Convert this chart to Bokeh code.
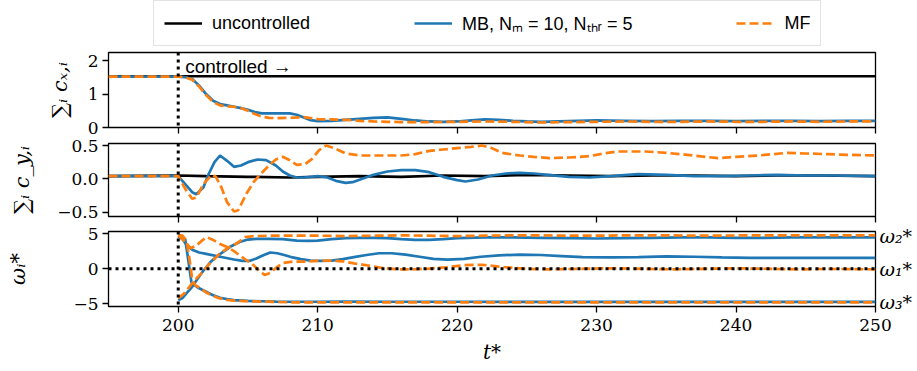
from bokeh.plotting import figure
from bokeh.models import (Range1d, FixedTicker, LinearAxis, Legend, LegendItem, Span)
from bokeh.layouts import column
from bokeh.core.properties import value
from bokeh.embed import file_html
from bokeh.resources import INLINE

# ---------------- data ----------------
t_start, t_end = 195, 250
t_control = 200
x_ticks = [200, 210, 220, 230, 240, 250]

# panel 1: sum_i c_x,i
cx_unc_t = [195, 200, 210, 220, 230, 240, 250]
cx_unc = [1.53, 1.53, 1.53, 1.53, 1.53, 1.53, 1.53]

cx_mb_t = [195, 200, 200.5, 201, 201.5, 202, 202.5, 203, 203.5, 204, 204.5, 205, 205.5, 206, 207, 208,
           208.5, 209, 209.5, 210, 211, 212, 213, 214, 215, 216, 217, 218, 219, 220, 221, 222, 223, 224,
           225, 226, 228, 230, 232, 234, 236, 238, 240, 242, 244, 246, 248, 250]
cx_mb = [1.52, 1.52, 1.50, 1.45, 1.25, 1.00, 0.80, 0.70, 0.66, 0.62, 0.58, 0.53, 0.46, 0.42, 0.42, 0.42,
         0.38, 0.30, 0.22, 0.19, 0.20, 0.23, 0.26, 0.29, 0.30, 0.26, 0.21, 0.18, 0.17, 0.18, 0.21, 0.24, 0.23, 0.20,
         0.18, 0.17, 0.19, 0.21, 0.20, 0.19, 0.20, 0.20, 0.19, 0.20, 0.20, 0.19, 0.20, 0.20]

cx_mf_t = [195, 200, 200.5, 201, 201.5, 202, 202.5, 203, 203.5, 204, 204.5, 205, 205.5, 206, 206.5, 207,
           208, 209, 209.5, 210, 211, 212, 213, 214, 215, 216, 218, 220, 222, 224, 226, 228, 230, 232,
           234, 236, 238, 240, 242, 244, 246, 248, 250]
cx_mf = [1.52, 1.52, 1.50, 1.43, 1.22, 0.97, 0.76, 0.66, 0.63, 0.62, 0.58, 0.50, 0.40, 0.32, 0.29, 0.28,
         0.29, 0.31, 0.28, 0.25, 0.24, 0.23, 0.20, 0.18, 0.17, 0.16, 0.16, 0.17, 0.18, 0.17, 0.15, 0.16, 0.17, 0.18,
         0.17, 0.17, 0.18, 0.17, 0.17, 0.18, 0.17, 0.18, 0.18]

# panel 2: sum_i c_y,i
cy_unc_t = [195, 200, 202, 205, 208, 210, 213, 216, 219, 222, 225, 228, 231, 234, 237, 240, 243, 246, 250]
cy_unc = [0.04, 0.05, 0.04, 0.03, 0.02, 0.03, 0.04, 0.03, 0.05, 0.04, 0.06, 0.05, 0.04, 0.05, 0.05, 0.04,
          0.05, 0.05, 0.04]

cy_mb_t = [195, 200, 200.5, 201, 201.3, 201.8, 202.2, 202.6, 203, 203.5, 204, 204.5, 205, 205.7, 206.3, 207,
           207.5, 208, 208.5, 209, 210, 210.7, 211.3, 212, 212.5, 213.2, 214, 215, 216, 217, 218, 219, 220,
           220.6, 221.5, 222.5, 223.5, 224.5, 225.5, 226.5, 228, 229.5, 231, 233, 235, 237, 239, 241, 243,
           245, 247, 250]
cy_mb = [0.04, 0.04, -0.08, -0.20, -0.23, -0.13, 0.08, 0.25, 0.35, 0.27, 0.18, 0.20, 0.25, 0.29, 0.28, 0.20,
         0.11, 0.05, 0.02, 0.02, 0.04, 0.02, -0.03, -0.06, -0.05, 0.00, 0.06, 0.11, 0.13, 0.13, 0.10, 0.03, -0.02,
         -0.04, -0.01, 0.05, 0.08, 0.09, 0.08, 0.06, 0.03, 0.02, 0.04, 0.07, 0.06, 0.04, 0.04, 0.05, 0.06,
         0.05, 0.05, 0.04]

cy_mf_t = [195, 200, 200.5, 201, 201.3, 201.8, 202.4, 202.7, 203.1, 203.5, 204, 204.3, 204.9, 205.4, 205.9,
           206.5, 207, 207.5, 208, 208.5, 209.1, 209.6, 210.1, 210.6, 211.2, 212, 213, 214, 215, 216, 217, 218,
           219, 220, 221, 221.8, 222.5, 223.2, 224.5, 225.5, 226.6, 228, 229.5, 230.5, 231.5, 233.5, 235, 236.5,
           238.7, 240, 241.6, 243.7, 245, 246.6, 248, 250]
cy_mf = [0.04, 0.04, -0.15, -0.30, -0.28, -0.08, 0.06, 0.03, -0.13, -0.35, -0.49, -0.47, -0.22, -0.05, 0.07,
         0.20, 0.29, 0.33, 0.28, 0.21, 0.22, 0.30, 0.43, 0.50, 0.46, 0.38, 0.35, 0.35, 0.35, 0.35, 0.37, 0.42,
         0.44, 0.46, 0.48, 0.50, 0.46, 0.39, 0.35, 0.33, 0.31, 0.32, 0.34, 0.38, 0.41, 0.41, 0.39, 0.36,
         0.31, 0.33, 0.35, 0.39, 0.38, 0.37, 0.36, 0.35]

# panel 3: omega_i^*
w1_mb_t = [200, 200.3, 200.6, 201, 201.5, 202, 203, 204, 204.6, 205.1, 205.6, 206.1, 206.6, 207.1, 207.6, 208.2,
           208.8, 209.5, 210.2, 211, 211.8, 212.6, 213.5, 214.4, 215.3, 216.3, 217.3, 218.3, 219.3, 220.5, 221.7,
           223, 224.5, 226, 227.5, 229, 231, 233, 235, 237, 239, 241, 243, 245, 247, 250]
w1_mb = [4.6, 4.2, 3.4, 2.7, 2.3, 2.1, 1.7, 1.3, 1.1, 1.1, 1.45, 1.9, 2.3, 2.2, 1.95, 1.6,
         1.35, 1.15, 1.1, 1.15, 1.35, 1.65, 1.95, 2.2, 2.2, 2.0, 1.7, 1.4, 1.3, 1.4, 1.7,
         1.9, 2.0, 1.95, 1.8, 1.65, 1.6, 1.65, 1.75, 1.7, 1.6, 1.55, 1.55, 1.55, 1.55, 1.55]

w2_mb_t = [200, 200.3, 200.6, 201, 201.4, 201.8, 202.3, 202.8, 203.3, 203.8, 204.4, 205, 205.6, 206.5, 207.5,
           208.5, 209.3, 210, 211, 212, 213, 214, 215, 216, 217, 218, 219, 220, 222, 224, 226, 228, 230, 232,
           234, 236, 238, 240, 242, 244, 246, 248, 250]
w2_mb = [-4.5, -4.2, -3.5, -2.6, -1.4, -0.3, 0.9, 1.8, 2.5, 3.2, 3.8, 4.15, 4.25, 4.25, 4.2,
         4.0, 3.95, 4.0, 4.2, 4.35, 4.4, 4.4, 4.35, 4.2, 4.1, 4.1, 4.2, 4.35, 4.45, 4.45, 4.4, 4.35, 4.3, 4.35,
         4.4, 4.45, 4.45, 4.4, 4.4, 4.45, 4.45, 4.45, 4.45]

w3_mb_t = [200, 200.3, 200.5, 200.7, 200.95, 201.2, 201.5, 202, 202.5, 203, 203.5, 204, 205, 206, 207, 208,
           210, 212, 215, 220, 225, 230, 235, 240, 245, 250]
w3_mb = [4.6, 4.4, 4.2, 1.5, -2.0, -2.4, -2.8, -3.3, -3.8, -4.15, -4.35, -4.5, -4.6, -4.65, -4.7, -4.72,
         -4.72, -4.7, -4.72, -4.72, -4.75, -4.75, -4.75, -4.75, -4.75, -4.75]

w1_mf_t = [200, 200.4, 200.9, 201.3, 201.7, 202.05, 202.5, 203, 203.5, 204, 204.4, 204.9, 205.4, 205.8, 206.2,
           206.6, 207, 207.5, 208.2, 209, 209.9, 210.8, 211.8, 212.6, 213.3, 214, 214.8, 215.8, 216.8, 218,
           219.2, 220.5, 221.8, 223, 224, 225.2, 226.5, 228, 229.5, 231, 232.5, 234, 235.5, 237, 238.5, 240,
           241.5, 243, 244.5, 246, 247.5, 250]
w1_mf = [4.75, 4.0, 2.9, 3.3, 4.0, 4.5, 4.1, 3.5, 3.1, 2.5, 1.9, 1.2, 0.5, -0.3, -0.9,
         -0.6, 0.1, 0.8, 1.0, 1.0, 1.1, 1.15, 1.05, 0.75, 0.55, 0.3, 0.05, -0.1, -0.1, 0.0,
         0.2, 0.5, 0.55, 0.3, 0.1, -0.05, -0.1, -0.05, 0.0, 0.05, 0.0, -0.05, -0.1, -0.05, 0.0, 0.05,
         0.0, -0.05, -0.1, -0.05, -0.05, -0.1]

w2_mf_t = [200, 200.4, 200.8, 201.2, 201.5, 201.8, 202.2, 202.6, 203, 203.6, 204.2, 204.8, 205.5, 206.5, 208,
           210, 212, 214, 216, 218, 220, 222, 224, 226, 228, 230, 232, 235, 238, 241, 244, 247, 250]
w2_mf = [-4.2, -3.6, -2.6, -1.6, -1.0, -0.4, 0.6, 1.4, 2.2, 3.0, 3.6, 4.5, 4.65, 4.7, 4.7,
         4.7, 4.65, 4.7, 4.75, 4.7, 4.65, 4.7, 4.75, 4.75, 4.7, 4.7, 4.75, 4.75, 4.7, 4.75, 4.75, 4.75, 4.75]

w3_mf_t = [200, 200.3, 200.6, 200.8, 201, 201.2, 201.5, 202, 202.5, 203, 203.5, 204, 205, 206, 207, 208,
           210, 212, 215, 220, 225, 230, 235, 240, 245, 250]
w3_mf = [4.8, 4.7, 4.0, 1.5, -1.5, -2.3, -2.7, -3.4, -3.9, -4.25, -4.45, -4.55, -4.65, -4.7, -4.75, -4.8,
         -4.8, -4.8, -4.8, -4.8, -4.8, -4.8, -4.8, -4.8, -4.8, -4.8]

omega_label_pos = [4.7, 0.0, -4.7]
omega_label_text = ["ω₂*", "ω₁*", "ω₃*"]

legend_labels = ["uncontrolled", "MB, Nₘ = 10, Nₜₕᵣ = 5", "MF"]

# ---------------- style ----------------
C_UNC, C_MB, C_MF = "black", "#1f77b4", "#ff7f0e"
LW = 2.7
DASH = "9 4"
TICK_FONT = "DejaVu Serif"
SANS = "Liberation Sans"
FW = 767
MB_LEFT, MB_RIGHT = 108, 40
TOTAL_W = MB_LEFT + FW + MB_RIGHT

x_range = Range1d(t_start, t_end)


def make_fig(y0, y1, yticks, ylabels, ylabel, top, fh, bottom, label_standoff, show_x=False):
    p = figure(width=TOTAL_W, height=top + fh + bottom, title=None,
               x_range=x_range, y_range=Range1d(y0, y1),
               output_backend="svg", toolbar_location=None,
               min_border_left=MB_LEFT, min_border_right=MB_RIGHT,
               min_border_top=top, min_border_bottom=bottom)
    p.grid.visible = False
    p.outline_line_color = "black"
    p.outline_line_width = 1.3
    p.background_fill_color = "white"
    p.border_fill_color = "white"
    for ax in (p.xaxis[0], p.yaxis[0]):
        ax.axis_line_color = None
        ax.minor_tick_line_color = None
        ax.minor_tick_out = 0
        ax.major_tick_in = 0
        ax.major_tick_out = 6
        ax.major_tick_line_width = 1.3
        ax.major_tick_line_color = "black"
        ax.major_label_text_font = TICK_FONT
        ax.major_label_text_font_size = "17px"
        ax.major_label_text_color = "black"
        ax.axis_label_text_color = "black"
    p.xaxis.ticker = FixedTicker(ticks=x_ticks)
    if not show_x:
        p.xaxis.major_label_text_font_size = "0px"
        p.xaxis.major_label_standoff = 0
    yax = p.yaxis[0]
    yax.ticker = FixedTicker(ticks=yticks)
    yax.major_label_overrides = {t: l for t, l in zip(yticks, ylabels)}
    yax.major_label_standoff = 4
    yax.axis_label = ylabel
    yax.axis_label_text_font = TICK_FONT
    yax.axis_label_text_font_style = "italic"
    yax.axis_label_text_font_size = "21px"
    yax.axis_label_standoff = label_standoff
    return p


# legend strip: the series are drawn here outside the visible range, only the legend shows
leg_fig = figure(width=TOTAL_W, height=48, title=None, x_range=x_range, y_range=Range1d(10, 11),
                 x_axis_type=None, y_axis_type=None, output_backend="svg", toolbar_location=None,
                 min_border_left=MB_LEFT, min_border_right=MB_RIGHT, min_border_top=0, min_border_bottom=0)
leg_fig.grid.visible = False
leg_fig.outline_line_color = None
leg_fig.background_fill_color = "white"
leg_fig.border_fill_color = "white"
lr_unc = leg_fig.line(cx_unc_t, cx_unc, line_color=C_UNC, line_width=LW)
lr_mb = leg_fig.line(cx_mb_t, cx_mb, line_color=C_MB, line_width=LW)
lr_mf = leg_fig.line(cx_mf_t, cx_mf, line_color=C_MF, line_width=LW, line_dash=DASH)
legend = Legend(items=[LegendItem(label=legend_labels[0], renderers=[lr_unc]),
                       LegendItem(label=legend_labels[1], renderers=[lr_mb]),
                       LegendItem(label=legend_labels[2], renderers=[lr_mf])],
                orientation="horizontal", location=(45, 2))
legend.label_text_font = SANS
legend.label_text_font_size = "18px"
legend.label_text_color = "black"
legend.border_line_color = "#c8c8c8"
legend.border_line_width = 1.5
legend.glyph_width = 38
legend.glyph_height = 20
legend.label_standoff = 10
legend.spacing = 104
legend.padding = 10
legend.margin = 0
legend.background_fill_color = "white"
leg_fig.add_layout(legend, "center")

# panel 1
p1 = make_fig(0, 2.24, [0, 1, 2], ["0", "1", "2"], "∑ᵢ cₓ,ᵢ", 4, 75, 10, 13)
p1.add_layout(Span(location=t_control, dimension="height", line_color="black",
                   line_width=3, line_dash="3 4"))
p1.line(cx_unc_t, cx_unc, line_color=C_UNC, line_width=LW)
p1.line(cx_mb_t, cx_mb, line_color=C_MB, line_width=LW)
p1.line(cx_mf_t, cx_mf, line_color=C_MF, line_width=LW, line_dash=DASH)
p1.text(x=[t_control + 0.5], y=[1.82], text=["controlled →"], text_font=value(SANS),
        text_font_size="19px", text_baseline="middle", text_color="black")

# panel 2
p2 = make_fig(-0.565, 0.53, [-0.5, 0.0, 0.5], ["−0.5", "0.0", "0.5"], "∑ᵢ c_y,ᵢ", 6, 73, 7, 20)
p2.add_layout(Span(location=t_control, dimension="height", line_color="black",
                   line_width=3, line_dash="3 4"))
p2.line(cy_unc_t, cy_unc, line_color=C_UNC, line_width=LW)
p2.line(cy_mb_t, cy_mb, line_color=C_MB, line_width=LW)
p2.line(cy_mf_t, cy_mf, line_color=C_MF, line_width=LW, line_dash=DASH)

# panel 3
p3 = make_fig(-5.4, 5.3, [-5, 0, 5], ["−5", "0", "5"], "ωᵢ*", 8, 75, 62, 40, show_x=True)
p3.add_layout(Span(location=0, dimension="width", line_color="black",
                   line_width=3, line_dash="3 4"))
p3.add_layout(Span(location=t_control, dimension="height", line_color="black",
                   line_width=3, line_dash="3 4"))
for tt, vv in ((w1_mb_t, w1_mb), (w2_mb_t, w2_mb), (w3_mb_t, w3_mb)):
    p3.line(tt, vv, line_color=C_MB, line_width=LW)
for tt, vv in ((w1_mf_t, w1_mf), (w2_mf_t, w2_mf), (w3_mf_t, w3_mf)):
    p3.line(tt, vv, line_color=C_MF, line_width=LW, line_dash=DASH)
p3.xaxis.axis_label = "t*"
p3.xaxis.axis_label_text_font = TICK_FONT
p3.xaxis.axis_label_text_font_style = "italic"
p3.xaxis.axis_label_text_font_size = "20px"
p3.xaxis.axis_label_standoff = 6
p3.xaxis.major_label_standoff = 6

rax = LinearAxis(ticker=FixedTicker(ticks=omega_label_pos),
                 major_label_overrides={t: l for t, l in zip(omega_label_pos, omega_label_text)})
rax.axis_line_color = None
rax.major_tick_line_color = None
rax.minor_tick_line_color = None
rax.major_tick_out = 0
rax.major_tick_in = 0
rax.minor_tick_out = 0
rax.major_label_standoff = 4
rax.major_label_text_font = TICK_FONT
rax.major_label_text_font_style = "italic"
rax.major_label_text_font_size = "19px"
rax.major_label_text_color = "black"
p3.add_layout(rax, "right")

layout = column(leg_fig, p1, p2, p3, spacing=0)

with open("out.html", "w") as f:
    f.write(file_html(layout, INLINE))
